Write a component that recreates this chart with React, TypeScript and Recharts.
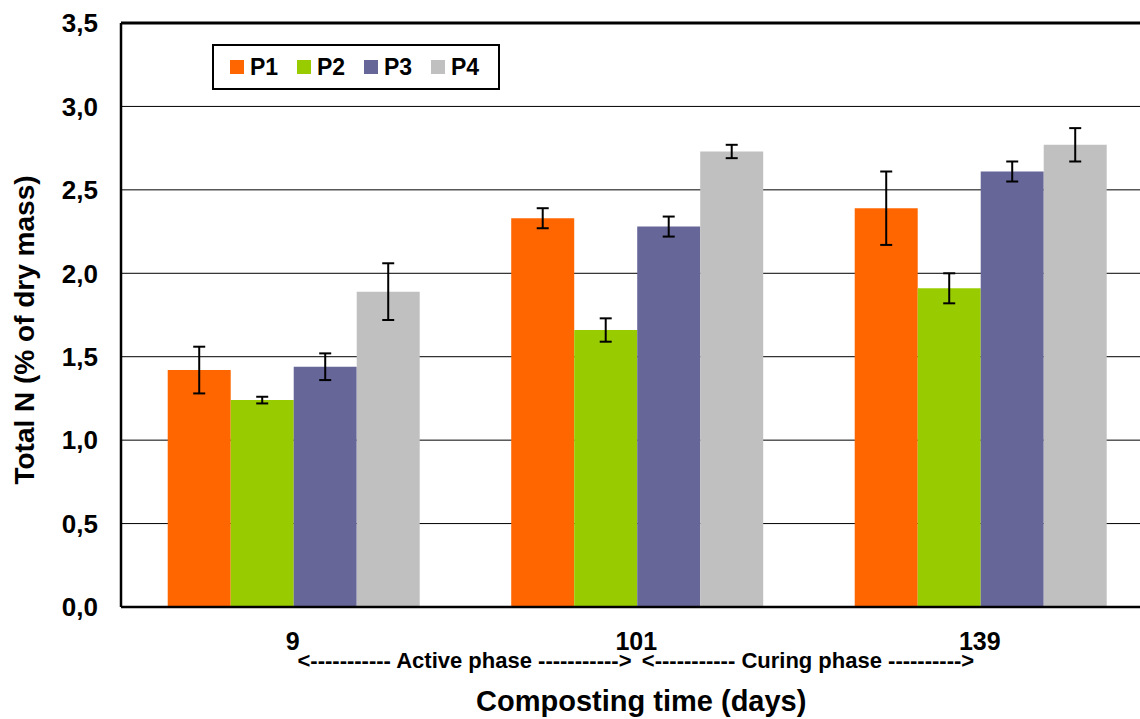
import React from 'react';
import {
  BarChart,
  Bar,
  XAxis,
  YAxis,
  CartesianGrid,
  ErrorBar,
  Legend,
  ReferenceLine,
} from 'recharts';

const categories = ['9', '101', '139'];
const categoryPositions = [0.5, 1.5, 2.5];

const p1Values = [1.42, 2.33, 2.39];
const p1Errors = [0.14, 0.06, 0.22];
const p2Values = [1.24, 1.66, 1.91];
const p2Errors = [0.02, 0.07, 0.09];
const p3Values = [1.44, 2.28, 2.61];
const p3Errors = [0.08, 0.06, 0.06];
const p4Values = [1.89, 2.73, 2.77];
const p4Errors = [0.17, 0.04, 0.1];

const seriesNames = ['P1', 'P2', 'P3', 'P4'];
const seriesColors = ['#FF6600', '#99CC00', '#666699', '#C0C0C0'];

const yTicks = [0, 0.5, 1, 1.5, 2, 2.5, 3, 3.5];
const phaseTicks = [1, 2];
const phaseLabels = [
  '<----------- Active phase ----------->',
  '<----------- Curing phase ---------->',
];

const yTitle = 'Total N (% of dry mass)';
const xTitle = 'Composting time (days)';

const FONT = '"Liberation Sans", Arial, Helvetica, sans-serif';

const data = categories.map((c, i) => ({
  category: c,
  pos: categoryPositions[i],
  p1: p1Values[i],
  p1Err: p1Errors[i],
  p2: p2Values[i],
  p2Err: p2Errors[i],
  p3: p3Values[i],
  p3Err: p3Errors[i],
  p4: p4Values[i],
  p4Err: p4Errors[i],
}));

const seriesKeys = ['p1', 'p2', 'p3', 'p4'];

const renderYTitle = (props: any) => {
  const vb = props.viewBox || { x: 0, y: 0, width: 0, height: 0 };
  const x = vb.x + 34;
  const y = vb.y + vb.height / 2 + 15;
  return (
    <text
      x={x}
      y={y}
      transform={`rotate(-90, ${x}, ${y})`}
      textAnchor="middle"
      fontFamily={FONT}
      fontWeight="bold"
      fontSize={28}
      fill="#000"
    >
      {yTitle}
    </text>
  );
};

const renderXTitle = (props: any) => {
  const vb = props.viewBox || { x: 0, y: 0, width: 0, height: 0 };
  const x = vb.x + vb.width / 2 + 5;
  const y = vb.y + vb.height + 34;
  return (
    <text
      x={x}
      y={y}
      textAnchor="middle"
      fontFamily={FONT}
      fontWeight="bold"
      fontSize={29}
      fill="#000"
    >
      {xTitle}
    </text>
  );
};

const renderLegend = (props: any) => {
  const payload = props.payload || [];
  return (
    <div
      style={{
        boxSizing: 'border-box',
        width: 288,
        height: 46,
        border: '2px solid #000',
        background: '#fff',
        display: 'flex',
        alignItems: 'center',
        paddingLeft: 16,
        fontFamily: FONT,
        fontWeight: 'bold',
        fontSize: 23,
        color: '#000',
      }}
    >
      {payload.map((entry: any, i: number) => (
        <div
          key={i}
          style={{ display: 'flex', alignItems: 'center', width: 69.5 }}
        >
          <span
            style={{
              display: 'inline-block',
              width: 14,
              height: 14,
              background: entry.color,
              marginRight: 6,
            }}
          />
          <span style={{ lineHeight: '23px' }}>{entry.value}</span>
        </div>
      ))}
    </div>
  );
};

export default function App() {
  return (
    <div
      style={{
        position: 'absolute',
        left: 0,
        top: 0,
        width: 1140,
        height: 719,
        overflow: 'hidden',
        background: '#fff',
      }}
    >
      <BarChart
        width={1160}
        height={719}
        data={data}
        margin={{ top: 23, right: 8.5, left: 0, bottom: 42 }}
        barCategoryGap="13.6%"
        barGap={0}
      >
        <CartesianGrid vertical={false} stroke="#000" strokeWidth={1} />
        <YAxis
          width={121}
          domain={[0, 3.5]}
          ticks={yTicks}
          interval={0}
          tickFormatter={(v: number) => v.toFixed(1).replace('.', ',')}
          tickLine={false}
          tickSize={0}
          tickMargin={23}
          axisLine={{ stroke: '#000', strokeWidth: 2.5 }}
          tick={{ fill: '#000', fontFamily: FONT, fontWeight: 'bold', fontSize: 26 }}
          label={renderYTitle}
        />
        <XAxis
          xAxisId="cat"
          dataKey="category"
          height={40}
          tickLine={false}
          tickSize={0}
          tickMargin={25}
          axisLine={{ stroke: '#000', strokeWidth: 2.5 }}
          tick={{ fill: '#000', fontFamily: FONT, fontWeight: 'bold', fontSize: 25 }}
        />
        <XAxis
          xAxisId="phase"
          dataKey="pos"
          type="number"
          domain={[0, 3]}
          ticks={phaseTicks}
          interval={0}
          allowDataOverflow
          height={30}
          tickLine={false}
          tickSize={0}
          tickMargin={5}
          axisLine={false}
          tickFormatter={(v: number) => phaseLabels[phaseTicks.indexOf(v)] ?? ''}
          tick={{ fill: '#000', fontFamily: FONT, fontWeight: 'bold', fontSize: 22 }}
          label={renderXTitle}
        />
        <ReferenceLine xAxisId="cat" y={3.5} stroke="#000" strokeWidth={3} />
        <Legend
          layout="horizontal"
          verticalAlign="middle"
          align="center"
          wrapperStyle={{ position: 'absolute', left: 212, top: 44, width: 288, height: 46 }}
          content={renderLegend}
        />
        {seriesKeys.map((k, i) => (
          <Bar
            key={k}
            xAxisId="cat"
            dataKey={k}
            name={seriesNames[i]}
            fill={seriesColors[i]}
            isAnimationActive={false}
          >
            <ErrorBar
              dataKey={`${k}Err`}
              width={6}
              strokeWidth={2}
              stroke="#000"
              direction="y"
              isAnimationActive={false}
            />
          </Bar>
        ))}
      </BarChart>
    </div>
  );
}
